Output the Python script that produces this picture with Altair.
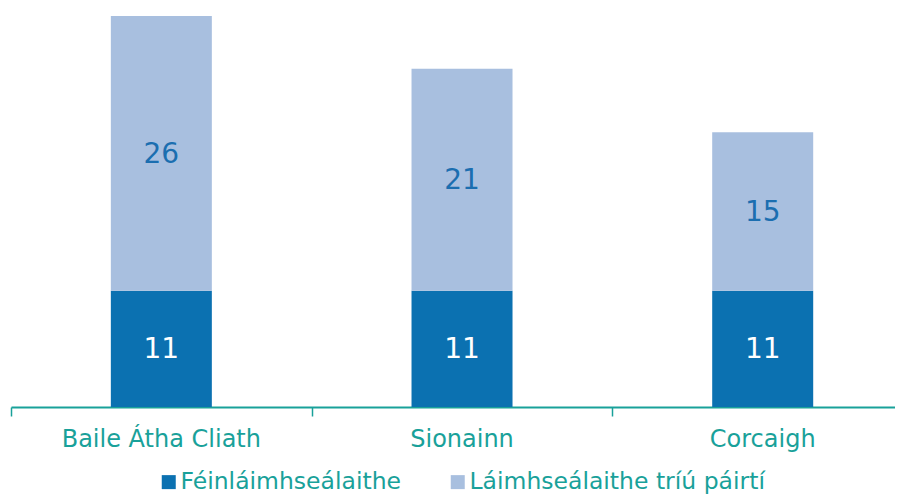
import altair as alt
import pandas as pd

categories = ["Baile Átha Cliath", "Sionainn", "Corcaigh"]
series = ["Féinláimhseálaithe", "Láimhseálaithe tríú páirtí"]
self_handled = [11, 11, 11]
third_party = [26, 21, 15]

DARK = "#0b71b1"
LIGHT = "#a8bfdf"
TEAL = "#19a19a"
LABEL_BLUE = "#1b6eb0"
FONT = "DejaVu Sans"

rows = []
for i, c in enumerate(categories):
    rows.append({"category": c, "idx": i, "series": series[0], "order": 0, "value": self_handled[i]})
    rows.append({"category": c, "idx": i, "series": series[1], "order": 1, "value": third_party[i]})
df = pd.DataFrame(rows)
cat_df = pd.DataFrame({"category": categories, "idx": list(range(len(categories)))})

W, H = 884, 391
xscale = alt.Scale(domain=[-0.5, 2.440], nice=False, zero=False, padding=0)
yscale = alt.Scale(domain=[0, 37], nice=False, padding=0)

base = alt.Chart(df).transform_stack(
    stack="value", groupby=["category"], as_=["y0", "y1"],
    sort=[alt.SortField("order", order="ascending")]
).transform_calculate(mid="(datum.y0 + datum.y1) / 2")

bars = base.mark_bar(size=101).encode(
    x=alt.X("idx:Q", scale=xscale,
            axis=alt.Axis(values=[-0.5, 0.5, 1.5], labels=False, title=None, grid=False,
                          domainColor=TEAL, domainWidth=2, tickColor=TEAL, tickWidth=1.5,
                          tickSize=9)),
    y=alt.Y("y0:Q", scale=yscale, axis=None),
    y2="y1:Q",
    color=alt.Color("series:N", scale=alt.Scale(domain=series, range=[DARK, LIGHT]),
                    legend=alt.Legend(title=None, orient="none", direction="horizontal",
                                      legendX=146, legendY=454, symbolType="square",
                                      symbolSize=196, symbolStrokeWidth=0,
                                      labelFont=FONT, labelFontSize=23.5, labelColor=TEAL,
                                      labelLimit=400, columnPadding=45, labelOffset=0,
                                      padding=0)),
)

values = base.mark_text(font=FONT, fontSize=28, baseline="middle", align="center", dy=1.5).encode(
    x=alt.X("idx:Q", scale=xscale),
    y=alt.Y("mid:Q", scale=yscale),
    text=alt.Text("value:Q"),
    color=alt.condition(alt.datum.series == series[0], alt.value("white"), alt.value(LABEL_BLUE)),
)

cat_labels = alt.Chart(cat_df).mark_text(font=FONT, fontSize=24, baseline="alphabetic",
                                         align="center", color=TEAL).encode(
    x=alt.X("idx:Q", scale=xscale),
    y=alt.value(431),
    text="category:N",
)

chart = alt.layer(bars, values, cat_labels).properties(
    width=W, height=H, autosize="none",
    padding={"left": 3, "top": 8, "right": 0, "bottom": 89},
).configure_view(stroke=None)

chart.save("out.html", embed_options={"renderer": "svg", "actions": False})
